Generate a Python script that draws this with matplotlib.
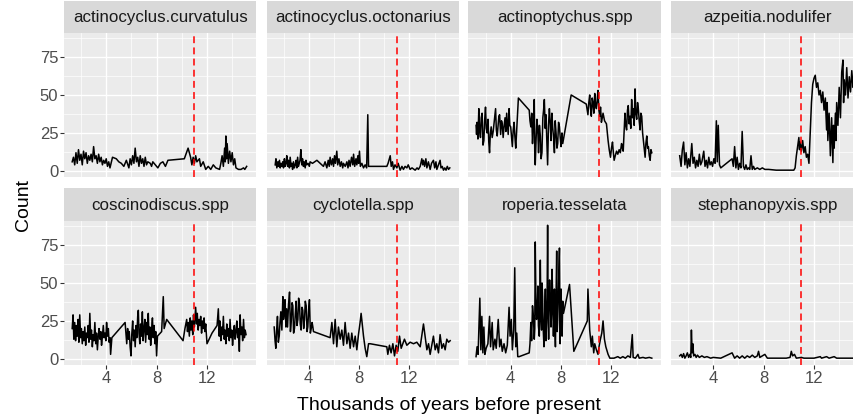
import matplotlib
matplotlib.use("Agg")
import matplotlib.pyplot as plt

plt.rcParams['font.family'] = ['Liberation Sans', 'DejaVu Sans']

# values (thousands of years BP, counts)
curv_x = [1.3, 1.4, 1.5, 1.6, 1.7, 1.8, 1.9, 2.0, 2.1, 2.2, 2.3, 2.4, 2.5, 2.6, 2.7, 2.8, 2.9, 3.0, 3.1, 3.2,
          3.3, 3.4, 3.5, 3.6, 3.7, 3.8, 3.9, 4.0, 4.1, 4.2, 4.3, 4.5, 4.8, 5.0, 5.2, 5.4, 5.6, 5.8, 5.9, 6.0,
          6.1, 6.2, 6.3, 6.4, 6.5, 6.6, 6.7, 6.8, 6.9, 7.0, 7.1, 7.2, 7.3, 7.5, 7.6, 7.7, 7.9, 8.1, 8.3, 8.5,
          8.7, 8.9, 10.2, 10.5, 10.7, 10.8, 10.9, 11.0, 11.1, 11.2, 11.4, 11.5, 11.7, 11.9, 12.1, 12.3, 12.5,
          12.7, 13.0, 13.1, 13.2, 13.3, 13.4, 13.45, 13.5, 13.55, 13.6, 13.7, 13.8, 13.9, 14.0, 14.1, 14.2,
          14.3, 14.5, 14.7, 14.9, 15.0, 15.15]
curv_y = [6, 9, 4, 12, 5, 14, 7, 11, 4, 13, 8, 12, 5, 10, 7, 11, 6, 16, 8, 10,
          5, 11, 6, 9, 4, 7, 5, 8, 3, 6, 2, 9, 8, 6, 5, 3, 7, 2, 8, 4,
          10, 5, 15, 6, 9, 3, 10, 5, 8, 3, 9, 4, 6, 5, 3, 6, 4, 2, 5, 6,
          3, 7, 8, 15, 9, 4, 9, 5, 10, 6, 8, 3, 6, 1, 3, 1, 4,
          2, 1, 5, 10, 3, 15, 6, 23, 8, 18, 5, 13, 6, 12, 4, 8,
          2, 1, 1, 2, 1, 3]

octo_x = [1.34, 1.4, 1.47, 1.55, 1.6, 1.68, 1.74, 1.8, 1.87, 1.94, 2.0, 2.07, 2.13, 2.2, 2.26, 2.33, 2.4,
          2.47, 2.53, 2.6, 2.66, 2.72, 2.79, 2.86, 2.93, 3.0, 3.06, 3.12, 3.19, 3.25, 3.31, 3.38, 3.45, 3.51,
          3.58, 3.64, 3.72, 3.78, 3.85, 3.95, 4.05, 4.11, 4.3, 4.65, 5.17, 5.3, 5.44, 5.55, 5.63, 5.7, 5.8,
          5.9, 5.97, 6.05, 6.12, 6.23, 6.3, 6.4, 6.5, 6.6, 6.7, 6.76, 6.9, 7.03, 7.12, 7.2, 7.29, 7.4, 7.5,
          7.56, 7.65, 7.75, 7.82, 7.9, 7.96, 8.03, 8.1, 8.22, 8.35, 8.48, 8.6, 8.69, 8.75, 8.88, 10.2, 10.3,
          10.47, 10.55, 10.65, 10.73, 10.85, 11.0, 11.1, 11.26, 11.4, 11.52, 11.65, 11.79, 11.9, 12.05, 12.2,
          12.45, 12.6, 12.71, 12.85, 12.98, 13.05, 13.11, 13.2, 13.3, 13.38, 13.5, 13.64, 13.75, 13.9, 14.0,
          14.1, 14.17, 14.3, 14.43, 14.5, 14.6, 14.7, 14.8, 14.9, 15.0, 15.1, 15.2]
octo_y = [4, 8, 2, 6, 3, 7, 2, 5, 3, 6, 2, 8, 3, 5, 10, 3, 7,
          2, 9, 3, 5, 1, 6, 2, 4, 7, 2, 9, 3, 5, 7, 14, 4, 8,
          3, 6, 2, 7, 4, 5, 3, 6, 5, 7, 3, 6, 2, 7, 3, 9, 4,
          8, 3, 10, 5, 13, 4, 8, 3, 6, 2, 5, 3, 6, 2, 7, 3, 9, 4,
          11, 3, 8, 4, 10, 5, 13, 3, 5, 2, 4, 2, 37, 3, 3, 3, 5,
          10, 3, 6, 1, 4, 2, 5, 0.5, 3, 1, 3, 2, 4, 1, 2,
          0.5, 2, 1, 3, 8, 4, 7, 3, 8, 2, 6, 1, 5, 7, 2,
          6, 1, 4, 7, 2, 3, 0.5, 2, 0.5, 3, 1, 2]

actp_x = [1.25, 1.29, 1.33, 1.4, 1.47, 1.53, 1.6, 1.66, 1.73, 1.8, 1.87, 1.93, 2.0, 2.06, 2.13, 2.2, 2.26,
          2.32, 2.38, 2.45, 2.53, 2.61, 2.7, 2.8, 2.86, 2.93, 3.0, 3.06, 3.12, 3.2, 3.27, 3.33, 3.4, 3.47,
          3.55, 3.62, 3.68, 3.73, 3.8, 3.87, 3.93, 4.0, 4.07, 4.13, 4.2, 4.27, 4.33, 4.4, 4.61, 5.47, 5.53,
          5.6, 5.67, 5.73, 5.8, 5.87, 5.91, 5.95, 6.02, 6.08, 6.15, 6.21, 6.28, 6.35, 6.41, 6.48, 6.55, 6.61,
          6.67, 6.74, 6.8, 6.87, 6.93, 7.0, 7.07, 7.13, 7.2, 7.27, 7.33, 7.4, 7.47, 7.53, 7.6, 7.67, 7.73,
          7.8, 7.87, 7.93, 8.0, 8.07, 8.13, 8.8, 10.0, 10.07, 10.13, 10.2, 10.27, 10.33, 10.4, 10.47, 10.53,
          10.6, 10.67, 10.73, 10.8, 10.87, 10.93, 11.0, 11.07, 11.13, 11.2, 11.27, 11.33, 11.45, 11.6, 11.73,
          11.82, 11.92, 12.0, 12.08, 12.15, 12.21, 12.3, 12.4, 12.5, 12.61, 12.7, 12.8, 12.87, 12.93, 13.0,
          13.07, 13.13, 13.2, 13.27, 13.33, 13.4, 13.47, 13.53, 13.6, 13.67, 13.73, 13.8, 13.87, 13.93, 14.0,
          14.07, 14.13, 14.2, 14.27, 14.33, 14.4, 14.47, 14.53, 14.6, 14.67, 14.73, 14.8, 14.87, 14.93, 15.0,
          15.07, 15.13, 15.2]
actp_y = [30, 24, 32, 21, 41, 27, 22, 35, 38, 17, 20, 33, 42, 28, 25, 34, 19,
          12, 24, 29, 22, 26, 33, 41, 27, 23, 30, 36, 37, 24, 33, 31, 22, 29,
          35, 26, 38, 32, 24, 41, 30, 29, 22, 16, 27, 32, 23, 15, 48, 40, 33,
          29, 38, 18, 30, 47, 12, 4, 22, 34, 27, 12, 30, 23, 8, 12, 35, 40,
          47, 28, 37, 20, 4, 30, 41, 33, 20, 38, 29, 22, 12, 33, 25, 15, 18,
          32, 29, 22, 16, 25, 18, 50, 44, 40, 37, 45, 50, 42, 36, 48, 45,
          38, 51, 44, 41, 47, 53, 40, 36, 42, 32, 35, 38, 33, 31, 20,
          14, 9, 15, 19, 12, 7, 10, 13, 11, 14, 12, 18, 15, 13, 25,
          38, 30, 27, 40, 43, 31, 36, 28, 47, 35, 41, 30, 54, 38, 34,
          45, 41, 33, 27, 38, 36, 25, 20, 14, 9, 18, 23, 15, 16, 10,
          7, 14, 12]

azpe_x = [1.34, 1.45, 1.55, 1.65, 1.75, 1.85, 1.95, 2.05, 2.15, 2.3, 2.4, 2.5, 2.6, 2.7, 2.8, 2.9, 3.0, 3.1,
          3.25, 3.35, 3.45, 3.55, 3.65, 3.75, 3.85, 3.95, 4.05, 4.15, 4.25, 4.32, 4.4, 4.5, 4.6, 5.5, 5.6,
          5.7, 5.8, 5.9, 6.0, 6.1, 6.2, 6.3, 6.4, 6.5, 6.6, 6.7, 6.8, 6.9, 7.0, 7.1, 7.2, 7.3, 7.5, 7.7,
          7.9, 8.1, 8.4, 9.0, 10.0, 10.4, 10.5, 10.6, 10.7, 10.8, 10.85, 10.9, 11.0, 11.1, 11.2, 11.3, 11.4,
          11.5, 11.6, 11.7, 11.8, 11.9, 12.0, 12.1, 12.2, 12.3, 12.4, 12.5, 12.6, 12.7, 12.8, 12.9, 13.0,
          13.05, 13.1, 13.2, 13.3, 13.4, 13.5, 13.55, 13.6, 13.7, 13.75, 13.8, 13.9, 14.0, 14.1, 14.2, 14.3,
          14.35, 14.4, 14.5, 14.6, 14.7, 14.8, 14.9, 15.0, 15.1, 15.2]
azpe_y = [10, 3, 14, 19, 4, 12, 2, 8, 3, 18, 5, 9, 2, 7, 3, 11, 4, 6,
          13, 3, 7, 2, 9, 4, 6, 3, 8, 5, 33, 6, 30, 4, 2, 8, 3,
          16, 2, 9, 1, 5, 2, 26, 3, 1, 4, 1, 2, 1, 10, 1, 3, 1, 2, 1,
          2, 1, 1, 0.5, 0.5, 0.5, 2, 10, 16, 22, 14, 19, 13, 20, 12, 16, 9,
          11, 5, 25, 45, 57, 61, 63, 55, 58, 50, 53, 45, 52, 40, 48, 27,
          45, 20, 38, 10, 35, 5.5, 30, 15, 38, 20, 45, 30, 55, 35, 65, 73,
          45, 60, 50, 68, 48, 62, 52, 66, 55, 60]

cosc_x = [1.3, 1.37, 1.43, 1.5, 1.57, 1.63, 1.7, 1.77, 1.83, 1.9, 1.97, 2.03, 2.1, 2.17, 2.23, 2.3, 2.37,
          2.43, 2.5, 2.57, 2.63, 2.7, 2.77, 2.83, 2.9, 2.97, 3.03, 3.1, 3.17, 3.23, 3.3, 3.37, 3.43, 3.5,
          3.57, 3.63, 3.7, 3.77, 3.83, 3.9, 3.97, 4.03, 4.1, 4.17, 4.23, 4.3, 4.35, 4.45, 5.5, 5.57, 5.63,
          5.7, 5.77, 5.83, 5.9, 5.97, 6.03, 6.1, 6.17, 6.23, 6.3, 6.37, 6.43, 6.5, 6.55, 6.6, 6.67, 6.73,
          6.8, 6.87, 6.93, 7.0, 7.07, 7.13, 7.2, 7.27, 7.34, 7.4, 7.47, 7.53, 7.6, 7.67, 7.73, 7.8, 7.87,
          7.93, 8.0, 8.07, 8.4, 8.53, 8.6, 8.8, 10.1, 10.25, 10.39, 10.45, 10.52, 10.6, 10.67, 10.73, 10.8,
          10.87, 10.93, 11.0, 11.05, 11.1, 11.17, 11.23, 11.3, 11.37, 11.43, 11.5, 11.57, 11.63, 11.7, 11.77,
          11.83, 11.9, 12.0, 12.4, 12.8, 12.9, 12.97, 13.03, 13.1, 13.17, 13.23, 13.3, 13.37, 13.43, 13.5,
          13.57, 13.63, 13.7, 13.77, 13.83, 13.9, 13.97, 14.03, 14.1, 14.17, 14.23, 14.3, 14.37, 14.43, 14.5,
          14.57, 14.63, 14.7, 14.77, 14.83, 14.9, 14.97, 15.03, 15.1]
cosc_y = [20, 29, 13, 24, 12, 22, 15, 26, 11, 29, 14, 20, 10, 18, 12, 21, 9,
          17, 14, 22, 11, 30, 13, 19, 8, 16, 12, 24, 10, 17, 6, 15, 20, 13,
          18, 9, 15, 22, 14, 17, 12, 24, 15, 20, 11, 14, 3, 14, 24, 16, 10,
          20, 13, 18, 8, 2, 16, 25, 12, 19, 8, 22, 14, 28, 32, 17, 10, 23,
          15, 31, 12, 20, 26, 11, 24, 16, 30, 13, 21, 9, 19, 27, 14, 22, 10,
          18, 2, 15, 18, 41, 20, 26, 12, 20, 26, 18, 24, 15, 27, 19, 25,
          16, 29, 21, 27, 34, 23, 30, 19, 26, 22, 28, 17, 25, 20, 27,
          18, 23, 10, 17, 22, 33, 15, 25, 12, 21, 16, 28, 13, 19, 10,
          23, 15, 20, 12, 26, 14, 19, 9, 17, 22, 13, 18, 25, 14, 20,
          5, 29, 16, 21, 12, 26, 14, 19, 16]

cycl_x = [1.26, 1.33, 1.39, 1.45, 1.52, 1.59, 1.66, 1.72, 1.79, 1.87, 1.95, 2.0, 2.05, 2.12, 2.19, 2.25,
          2.32, 2.4, 2.48, 2.55, 2.61, 2.68, 2.74, 2.8, 2.87, 2.94, 3.0, 3.07, 3.14, 3.2, 3.27, 3.33, 3.4,
          3.47, 3.53, 3.6, 3.67, 3.73, 3.8, 3.87, 3.93, 4.0, 4.06, 4.13, 4.2, 4.27, 4.33, 4.38, 5.7, 5.84,
          5.97, 6.1, 6.23, 6.36, 6.5, 6.63, 6.76, 6.89, 7.03, 7.16, 7.29, 7.42, 7.56, 7.69, 7.82, 7.95, 8.08,
          8.16, 8.35, 8.48, 8.61, 8.75, 8.88, 10.2, 10.28, 10.41, 10.54, 10.68, 10.81, 10.94, 11.07, 11.21,
          11.34, 11.47, 11.6, 11.79, 12.05, 12.32, 12.58, 12.85, 13.11, 13.38, 13.51, 13.64, 13.77, 13.9,
          14.04, 14.17, 14.3, 14.43, 14.57, 14.7, 14.83, 14.96, 15.1, 15.23]
cycl_y = [21, 12, 7, 18, 28, 11, 15, 24, 31, 19, 41, 26, 30, 39, 21, 33,
          21, 36, 44, 18, 24, 37, 35, 17, 20, 30, 38, 22, 26, 40, 36, 23, 19,
          34, 32, 20, 26, 38, 35, 18, 21, 33, 39, 17, 20, 24, 21, 18, 14, 24,
          10, 26, 8, 21, 13, 19, 9, 24, 10, 17, 7, 17, 8, 15, 6, 16, 24,
          30, 15, 7, 1.5, 10, 10, 8, 3, 9, 4, 10, 2, 9, 5, 15,
          7, 10, 13, 9, 11, 10, 11, 8, 23, 6, 10, 3, 9, 15,
          6, 10, 4, 16, 7, 10, 6, 13, 11, 12]

rope_x = [1.25, 1.33, 1.41, 1.47, 1.55, 1.63, 1.71, 1.79, 1.87, 1.95, 2.05, 2.19, 2.32, 2.4, 2.53, 2.61,
          2.75, 2.85, 3.01, 3.12, 3.23, 3.33, 3.47, 3.6, 3.73, 3.87, 3.95, 4.05, 4.13, 4.24, 4.32, 4.4, 4.48,
          4.56, 4.67, 5.47, 5.53, 5.6, 5.66, 5.73, 5.8, 5.87, 5.91, 5.95, 6.0, 6.05, 6.1, 6.16, 6.2, 6.27,
          6.31, 6.35, 6.4, 6.45, 6.49, 6.53, 6.58, 6.64, 6.7, 6.75, 6.8, 6.85, 6.89, 6.93, 6.97, 7.01, 7.05,
          7.09, 7.14, 7.2, 7.24, 7.28, 7.34, 7.39, 7.43, 7.47, 7.51, 7.55, 7.6, 7.65, 7.69, 7.73, 7.77, 7.81,
          7.87, 7.92, 7.96, 8.0, 8.04, 8.08, 8.13, 8.19, 8.67, 9.01, 10.08, 10.13, 10.27, 10.4, 10.48, 10.59,
          10.67, 10.8, 10.93, 11.01, 11.12, 11.23, 11.33, 11.44, 11.55, 11.73, 11.87, 12.2, 12.5, 12.7, 12.9,
          13.1, 13.3, 13.5, 13.65, 13.72, 13.9, 14.1, 14.2, 14.5, 14.7, 15.0, 15.2]
rope_y = [1.5, 8, 3, 19, 40, 6, 28, 4, 21, 3, 7, 10, 28, 8, 24, 6,
          13, 7, 26, 8, 13, 5, 10, 4, 9, 34, 15, 26, 6, 19, 60, 8, 17,
          1.5, 1.5, 4, 10, 24, 12, 35, 28, 13, 20, 77, 40, 26, 30, 48, 22, 15,
          35, 65, 28, 19, 50, 41, 20, 8, 30, 46, 12, 24, 40, 88, 30, 13, 35,
          52, 40, 21, 30, 59, 38, 15, 28, 46, 20, 8, 40, 71, 18, 26, 36, 52,
          73, 10, 35, 46, 20, 15, 38, 30, 49, 5, 25, 46, 19, 8, 15, 4,
          10, 6, 3, 8, 13, 17, 25, 13, 8, 3, 0.5, 0.5, 1.5, 0.5, 1.5,
          0.5, 2, 1, 16, 1, 0.5, 3, 0.5, 1, 0.5, 1, 0.5]

step_x = [1.34, 1.45, 1.55, 1.65, 1.75, 1.85, 1.95, 2.05, 2.15, 2.22, 2.27, 2.33, 2.38, 2.45, 2.55, 2.65,
          2.75, 2.9, 3.1, 3.3, 3.5, 3.8, 4.0, 4.6, 5.5, 5.7, 5.9, 6.1, 6.3, 6.5, 6.7, 6.9, 7.1, 7.3, 7.5,
          7.6, 7.7, 7.9, 8.1, 8.3, 9.0, 9.8, 10.1, 10.2, 10.3, 10.45, 10.6, 11.0, 11.2, 12.0, 12.5, 12.6,
          13.0, 13.2, 13.6, 13.8, 14.5, 15.2]
step_y = [2, 3, 1, 3.5, 0.5, 2, 4, 1, 3, 1, 19, 4, 10, 2, 3, 1,
          2.5, 1, 2, 1, 1.5, 0.5, 1, 0.5, 4, 0.5, 2, 0.5, 2, 0.5, 2, 1, 2.5, 1, 2,
          5, 1, 2, 3, 0.5, 0.5, 0.5, 1, 5, 2, 3, 0.5, 1, 0.5, 0.5, 1.5, 0.5,
          1.5, 0.5, 1.5, 0.5, 0.5, 0.5]

names = ["actinocyclus.curvatulus", "actinocyclus.octonarius", "actinoptychus.spp", "azpeitia.nodulifer",
         "coscinodiscus.spp", "cyclotella.spp", "roperia.tesselata", "stephanopyxis.spp"]
series = [(curv_x, curv_y), (octo_x, octo_y), (actp_x, actp_y), (azpe_x, azpe_y),
          (cosc_x, cosc_y), (cycl_x, cycl_y), (rope_x, rope_y), (step_x, step_y)]
boundary = 11

W, H = 854, 419
fig = plt.figure(figsize=(W / 100, H / 100), dpi=100)

col_left = [64, 266.5, 468.5, 671]
pw = 192.5
rows = [(1, 33, 177), (188, 221, 365)]  # strip top, panel top, panel bottom (pixels)

for i, name in enumerate(names):
    r, c = divmod(i, 4)
    st, pt, pb = rows[r]
    x0 = col_left[c]
    ax = fig.add_axes([x0 / W, 1 - pb / H, pw / W, (pb - pt) / H])
    sax = fig.add_axes([x0 / W, 1 - pt / H, pw / W, (pt - st) / H])
    sax.set_facecolor("#D9D9D9")
    sax.set_xticks([])
    sax.set_yticks([])
    for s in sax.spines.values():
        s.set_visible(False)
    sax.text(0.5, 0.47, name, ha="center", va="center", fontsize=12.2, color="#1A1A1A",
             transform=sax.transAxes)

    ax.set_facecolor("#EBEBEB")
    for s in ax.spines.values():
        s.set_visible(False)
    ax.set_xlim(0.65, 15.93)
    ax.set_ylim(-4, 90.8)
    ax.set_xticks([4, 8, 12])
    ax.set_yticks([0, 25, 50, 75])
    ax.set_xticks([2, 6, 10, 14], minor=True)
    ax.set_yticks([12.5, 37.5, 62.5, 87.5], minor=True)
    ax.grid(which="major", color="white", lw=1.0)
    ax.grid(which="minor", color="white", lw=0.5)
    ax.set_axisbelow(True)
    ax.tick_params(which="minor", length=0)
    ax.tick_params(which="major", length=2.6, width=0.8, color="#333333",
                   labelcolor="#4D4D4D", labelsize=12, pad=1.5)
    if c != 0:
        ax.tick_params(axis="y", length=0, labelleft=False)
    if r != 1:
        ax.tick_params(axis="x", length=0, labelbottom=False)

    xs, ys = series[i]
    ax.plot(xs, ys, color="black", lw=1.1, zorder=3)
    ax.axvline(boundary, color="red", lw=1.1, dashes=(4.5, 2.8), zorder=4)

fig.text(449 / W, 1 - 405 / H, "Thousands of years before present", ha="center", va="center",
         fontsize=14, color="black")
fig.text(24 / W, 1 - 205 / H, "Count", ha="center", va="center", rotation=90,
         fontsize=14, color="black")

fig.savefig("out.png", dpi=100)
